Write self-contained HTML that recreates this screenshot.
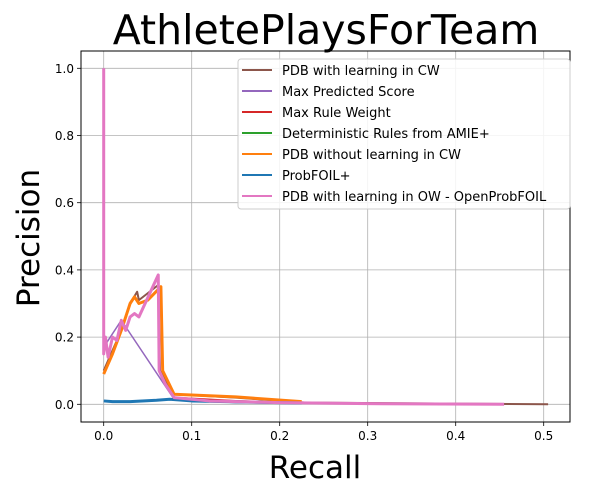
<!DOCTYPE html>
<html><head><meta charset="utf-8"><style>
body{margin:0;background:#fff;font-family:"Liberation Sans","DejaVu Sans",sans-serif}
</style></head><body>
<svg id="c" width="590" height="494" xmlns="http://www.w3.org/2000/svg" font-family="DejaVu Sans, Liberation Sans, sans-serif"></svg>
<script>
const seriesNames=["PDB with learning in CW","Max Predicted Score","Max Rule Weight","Deterministic Rules from AMIE+","PDB without learning in CW","ProbFOIL+","PDB with learning in OW - OpenProbFOIL"];
const seriesColors=["#8c564b","#9467bd","#d62728","#2ca02c","#ff7f0e","#1f77b4","#e377c2"];
const xTicks=[0,0.1,0.2,0.3,0.4,0.5];
const xTickLabels=["0.0","0.1","0.2","0.3","0.4","0.5"];
const yTicks=[0,0.2,0.4,0.6,0.8,1.0];
const yTickLabels=["0.0","0.2","0.4","0.6","0.8","1.0"];
const brownX=[0,0.02,0.03,0.038,0.04,0.062,0.064,0.08,0.15,0.23,0.505];
const brownY=[0.1,0.22,0.3,0.335,0.31,0.355,0.1,0.03,0.02,0.005,0.0];
const purpleX=[0,0.02,0.08,0.15,0.22];
const purpleY=[0.17,0.25,0.015,0.005,0.003];
const redX=[0.08,0.15,0.2];
const redY=[0.02,0.01,0.005];
const greenX=[0.08,0.1,0.2,0.22];
const greenY=[0.02,0.01,0.005,0.003];
const orangeX=[0,0.01,0.02,0.03,0.035,0.04,0.05,0.065,0.067,0.08,0.15,0.225];
const orangeY=[0.09,0.15,0.22,0.3,0.32,0.3,0.31,0.35,0.1,0.03,0.022,0.008];
const blueX=[0,0.01,0.03,0.06,0.075,0.1,0.2,0.225];
const blueY=[0.01,0.008,0.008,0.012,0.015,0.01,0.005,0.004];
const pinkX=[0,0,0.002,0.005,0.01,0.015,0.02,0.025,0.03,0.035,0.04,0.062,0.063,0.07,0.08,0.12,0.2,0.3,0.455];
const pinkY=[1.0,0.15,0.2,0.14,0.2,0.19,0.25,0.22,0.26,0.27,0.26,0.385,0.1,0.06,0.02,0.01,0.005,0.002,0.0];
const allX=[brownX,purpleX,redX,greenX,orangeX,blueX,pinkX];
const allY=[brownY,purpleY,redY,greenY,orangeY,blueY,pinkY];
const widths=[2,1.5,2,2,3,3,3];

const svg=document.getElementById('c');
const NS='http://www.w3.org/2000/svg';
const L=81,R=570,T=51,B=422;
const sx=v=>103.7+v*880;
const sy=v=>404.3-v*336;
function mk(tag,attrs,parent){const e=document.createElementNS(NS,tag);for(const k in attrs)e.setAttribute(k,attrs[k]);(parent||svg).appendChild(e);return e;}

let t=mk('text',{x:326,y:44,'font-size':41,'text-anchor':'middle',fill:'#000'});


t.textContent='AthletePlaysForTeam';

const grid=mk('g',{});


xTicks.forEach((v,i)=>{
  mk('line',{x1:sx(v),x2:sx(v),y1:T,y2:B,stroke:'#b0b0b0','stroke-width':0.8},grid);
  mk('line',{x1:sx(v),x2:sx(v),y1:B,y2:B+4,stroke:'#000','stroke-width':0.8});
  const tl=mk('text',{x:sx(v),y:B+18,'font-size':12,'text-anchor':'middle',fill:'#000'});
  
  
  tl.textContent=xTickLabels[i];
});
yTicks.forEach((v,i)=>{
  mk('line',{x1:L,x2:R,y1:sy(v),y2:sy(v),stroke:'#b0b0b0','stroke-width':0.8},grid);
  mk('line',{x1:L-4,x2:L,y1:sy(v),y2:sy(v),stroke:'#000','stroke-width':0.8});
  const tl=mk('text',{x:L-7,y:sy(v)+4.5,'font-size':12,'text-anchor':'end',fill:'#000'});
  
  
  tl.textContent=yTickLabels[i];
});

const plot=mk('g',{});


allX.forEach((xs,s)=>{
  const pts=xs.map((x,i)=>sx(x)+','+sy(allY[s][i])).join(' ');
  const p=mk('polyline',{points:pts,fill:'none',stroke:seriesColors[s],'stroke-width':widths[s],'stroke-linejoin':'round'},plot);
  
  
});

const fr=mk('rect',{x:L,y:T,width:R-L,height:B-T,fill:'none',stroke:'#000','stroke-width':1});



const lg=mk('g',{});


mk('rect',{x:238,y:59,width:332,height:150,rx:3,fill:'#fff','fill-opacity':0.85,stroke:'#ccc'},lg);
seriesNames.forEach((n,i)=>{
  const y=70+i*21;
  const e=mk('g',{},lg);
  
  
  mk('line',{x1:242,x2:272,y1:y,y2:y,stroke:seriesColors[i],'stroke-width':2},e);
  const tx=mk('text',{x:282,y:y+5,'font-size':13,fill:'#000'},e);
  tx.textContent=n;
});

const xl=mk('text',{x:315,y:478,'font-size':31,'text-anchor':'middle',fill:'#000'});


xl.textContent='Recall';
const yl=mk('text',{x:0,y:0,'font-size':31,'text-anchor':'middle',fill:'#000',transform:'translate(39,238) rotate(-90)'});


yl.textContent='Precision';
</script>
</body></html>
